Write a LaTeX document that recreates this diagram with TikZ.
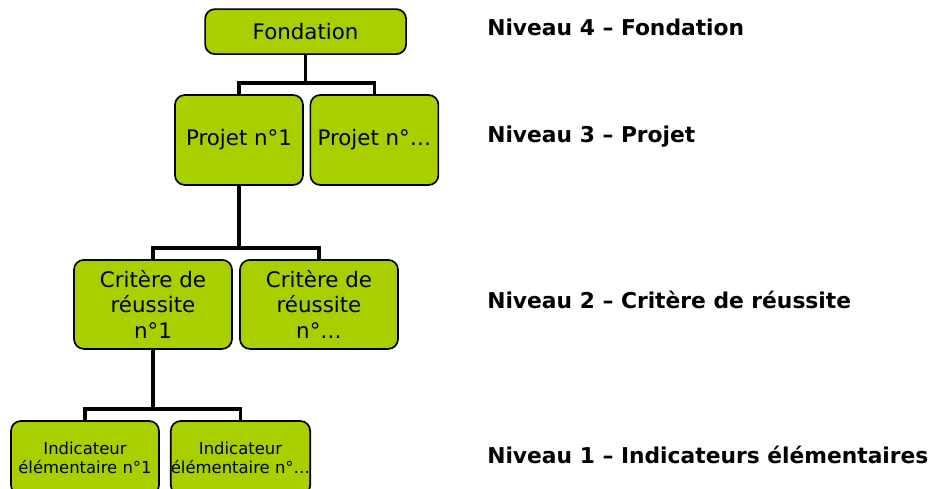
\documentclass[tikz,border=0pt]{standalone}
\usepackage{fontspec}
\setmainfont{DejaVu Sans}
\usepackage{tikz}

\definecolor{lime}{RGB}{168,207,0}

\begin{document}
\begin{tikzpicture}[
    box/.style={rectangle, draw, fill=lime, line width=1.2pt, rounded corners=7pt, align=center, inner sep=0pt},
    big/.style={box, font=\fontsize{15.2}{18.4}\selectfont},
    small/.style={box, font=\fontsize{11.7}{13.5}\selectfont},
    link/.style={line width=2.6pt},
    level/.style={anchor=west, inner sep=0pt, font=\fontsize{15.5}{18}\selectfont\bfseries}
]
\useasboundingbox (0,0) rectangle (23.375,-12.2);

\node[big, minimum width=5.025cm, minimum height=1.125cm] (fond) at (7.64,-0.79) {Fondation};

\node[big, minimum width=3.2cm, minimum height=2.25cm] (p1) at (5.975,-3.5) {Projet n°1};
\node[big, minimum width=3.2cm, minimum height=2.25cm] (p2) at (9.36,-3.5) {Projet n°\dots};

\node[big, minimum width=3.95cm, minimum height=2.225cm] (c1) at (3.825,-7.61) {Critère de\\réussite\\n°1};
\node[big, minimum width=3.95cm, minimum height=2.225cm] (c2) at (7.975,-7.61) {Critère de\\réussite\\n°\dots};

\node[small, minimum width=3.7cm, minimum height=1.85cm] (i1) at (2.125,-11.45) {Indicateur\\élémentaire n°1};
\node[small, minimum width=3.475cm, minimum height=1.85cm] (i2) at (6.0125,-11.45) {Indicateur\\élémentaire n°\dots};

\draw[link] (fond.south) -- ++(0,-0.7) -| (p1.north);
\draw[link] (fond.south) -- ++(0,-0.7) -| (p2.north);
\draw[link] (p1.south) -- ++(0,-1.55) -| (c1.north);
\draw[link] (p1.south) -- ++(0,-1.55) -| (c2.north);
\draw[link] (c1.south) -- ++(0,-1.475) -| (i1.north);
\draw[link] (c1.south) -- ++(0,-1.475) -| (i2.north);

\node[level] (n4) at (12.175,-0.675) {Niveau 4 – Fondation};
\node[level] (n3) at (12.175,-3.425) {Niveau 3 – Projet};
\node[level] (n2) at (12.175,-7.5) {Niveau 2 – Critère de réussite};
\node[level] (n1) at (12.175,-11.375) {Niveau 1 – Indicateurs élémentaires};
\end{tikzpicture}
\end{document}
